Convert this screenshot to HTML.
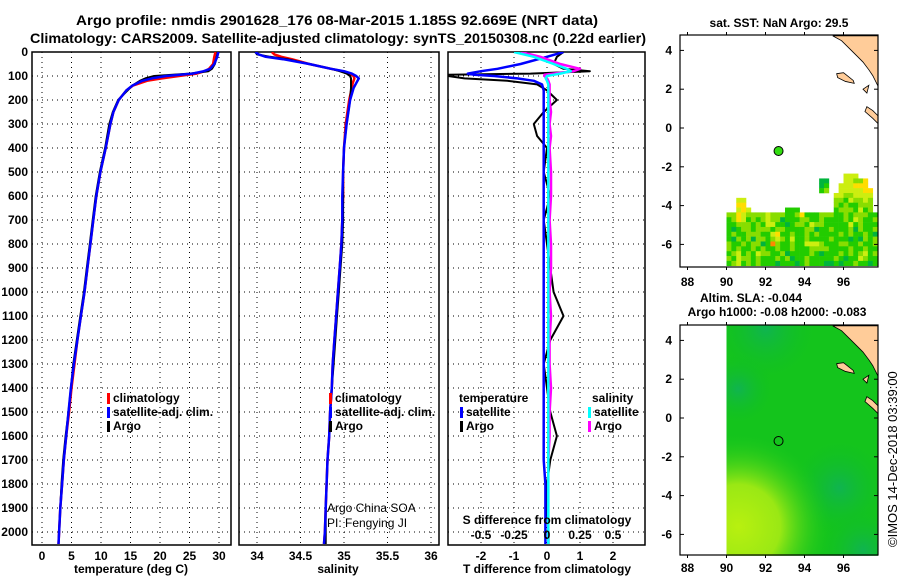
<!DOCTYPE html>
<html><head><meta charset="utf-8"><style>
html,body{margin:0;padding:0;background:#fff;width:900px;height:580px;overflow:hidden;}
svg{display:block;font-family:"Liberation Sans",sans-serif;}
.b{font-weight:bold;font-size:12px;}
</style></head><body>
<svg id="root" width="900" height="580" viewBox="0 0 900 580" xmlns="http://www.w3.org/2000/svg">
<defs id="defs">
<clipPath id="c1"><rect x="32" y="52" width="199" height="493"/></clipPath>
<clipPath id="c2"><rect x="239" y="52" width="200" height="493"/></clipPath>
<clipPath id="c3"><rect x="448" y="52" width="197" height="493"/></clipPath>
<clipPath id="cm1"><rect x="680" y="35" width="198" height="232"/></clipPath>
<clipPath id="cm2"><rect x="680" y="325" width="198" height="230"/></clipPath>
</defs>
<text x="337" y="25" text-anchor="middle" font-weight="bold" font-size="14" textLength="522" lengthAdjust="spacingAndGlyphs">Argo profile: nmdis 2901628_176 08-Mar-2015 1.185S 92.669E (NRT data)</text>
<text x="338" y="43" text-anchor="middle" font-weight="bold" font-size="14" textLength="616" lengthAdjust="spacingAndGlyphs">Climatology: CARS2009. Satellite-adjusted climatology: synTS_20150308.nc (0.22d earlier)</text>
<g id="g1"></g>
<g id="g2"></g>
<g id="g3"></g>
<g id="gm1"></g>
<g id="gm2"></g>
<text x="779" y="27" text-anchor="middle" class="b">sat. SST: NaN Argo: 29.5</text>
<text x="751" y="302" text-anchor="middle" class="b">Altim. SLA: -0.044</text>
<text x="777" y="316" text-anchor="middle" class="b">Argo h1000: -0.08 h2000: -0.083</text>
<text transform="translate(897,547) rotate(-90)" font-size="13">©IMOS 14-Dec-2018 03:39:00</text>
</svg>
<script>
// ---- profile data ----
const tDepth=[0,20,50,70,80,90,100,110,120,140,160,200,250,300,400,500,600,700,800,900,1000,1100,1200,1300,1400,1500,1600,1700,1800,1900,2000,2050];
const tArgo=[29.8,29.6,29.3,28.8,28.2,25,19,17.5,16.6,15.3,14.5,12.9,12.0,11.4,10.7,9.8,9.1,8.6,8.1,7.6,7.1,6.5,5.9,5.3,4.9,4.5,4.0,3.6,3.3,3.1,2.9,2.8];
const tClim=[29.4,29.2,29.0,28.3,27.6,26.2,23.2,20.3,17.8,15.4,14.3,13.0,12.1,11.6,10.8,9.9,9.2,8.7,8.2,7.7,7.2,6.6,6.0,5.5,5.0,4.6,4.1,3.7,3.4,3.1,2.9,2.8];
const tSat=[29.9,29.7,29.2,28.5,27.4,25.5,21.0,18.6,17.0,15.3,14.3,13.0,12.1,11.6,10.8,9.9,9.2,8.7,8.2,7.7,7.2,6.6,6.0,5.4,4.9,4.5,4.1,3.7,3.4,3.1,2.9,2.8];
const sDepth=[0,10,20,30,50,70,80,90,100,110,130,150,200,300,400,500,600,700,800,900,1000,1100,1200,1300,1400,1500,1600,1700,1800,1900,2000,2050];
const sArgo=[33.98,34.0,34.15,34.35,34.6,34.85,34.95,35.03,35.07,35.08,35.08,35.08,35.07,35.03,35.0,34.99,34.99,34.99,34.98,34.96,34.94,34.92,34.9,34.88,34.86,34.84,34.83,34.81,34.8,34.79,34.79,34.79];
const sClim=[34.17,34.2,34.28,34.4,34.6,34.85,34.98,35.06,35.11,35.12,35.1,35.09,35.06,35.02,35.0,34.99,34.99,34.98,34.97,34.95,34.93,34.91,34.89,34.87,34.86,34.84,34.83,34.81,34.8,34.79,34.78,34.77];
const sSat=[33.98,34.02,34.1,34.3,34.6,34.85,35.0,35.09,35.14,35.17,35.14,35.11,35.07,35.03,35.0,34.99,34.98,34.98,34.97,34.95,34.93,34.91,34.89,34.87,34.86,34.84,34.83,34.81,34.8,34.79,34.78,34.77];
const dDepth=[0,20,50,70,80,90,95,100,110,120,135,160,200,250,300,350,400,500,600,700,800,900,1000,1100,1200,1300,1400,1500,1600,1700,1800,1900,2000,2050];
const tdArgo=[0.5,0.3,0.2,0.5,1.3,-0.5,-3,-3,-2.5,-1.2,-0.3,0,0.3,-0.1,-0.4,-0.3,0,-0.1,0.1,-0.1,0,0.1,0.2,0.5,0.1,-0.1,0,0.1,0.3,0.1,0,0,0.05,0.05];
const tdSat=[0.5,0,-0.8,-1.5,-2,-2.4,-2.2,-1.6,-0.9,-0.4,-0.15,-0.1,-0.1,-0.1,-0.1,-0.1,-0.1,-0.1,-0.1,-0.1,-0.1,-0.1,-0.1,-0.1,-0.1,-0.1,-0.1,-0.1,-0.1,-0.1,-0.05,-0.05,-0.05,-0.05];
const sdArgo=[-0.2,-0.05,0.1,0.25,0.2,0.05,-0.02,-0.02,0,0.01,0.02,0.02,0.02,0.03,0.02,0.03,0.02,0.03,0.03,0.02,0.03,0.03,0.02,0.03,0.02,0.02,0.03,0.02,0.02,0.01,0.01,0.01,0.01,0.01];
const sdSat=[-0.25,-0.1,0.05,0.15,0.18,0.1,0.05,0,-0.01,0,0.01,0.01,0.01,0.01,0.01,0.01,0.01,0.01,0.01,0.01,0.01,0.01,0.01,0.01,0.01,0.01,0.01,0.01,0.01,0.01,0.01,0.01,0.01,0.01];
const depthTicks=[0,100,200,300,400,500,600,700,800,900,1000,1100,1200,1300,1400,1500,1600,1700,1800,1900,2000];
const tTicks=[0,5,10,15,20,25,30];
const sTicks=[34,34.5,35,35.5,36];
const tdTicks=[-2,-1,0,1,2];
const sdTicks=[-0.5,-0.25,0,0.25,0.5];
// ---- map data ----
const lonTicks=[88,90,92,94,96];
const latTicks=[4,2,0,-2,-4,-6];
const argoLon=92.669, argoLat=-1.185;
const sstRows=[
"........................yyy....",
"...................GG...yyllY..",
"...................Gg..yyyYYY..",
"...................gl..yyyyyYY.",
"......................yyllyyyy.",
"..yy..................llgyllyl.",
"..YY..................lglgglll.",
"..yYy.......ggg.......glllgygl.",
"llYyllllylllgglYggglllgglglllgg",
"glYyglglyllGgggllgglgggglgylggl",
"gglllglgyyggGgllgyllgggggyglggg",
"gGgllglllgllggggllGgglggglGlggl",
"glgglllggyYgglgglglgggglglgglgG",
"gGlglGllglylgygglgggglgggGgGlgl",
"lgglgllGgolgglggyyylgggllgglggl",
"lglgglglgglgglgggllllgggglgglgg",
"glyglgyllgglGgggglgGggglglglygl",
"lgyllglggglglGgglggggglgGggylgg",
"glyglglgggGgggGglgggGGgGgglggGg"];
const sstTopLat=-2.35, sstCell=0.25, sstLon0=90;
const sstColors={g:"#22cc00",G:"#00b43c",l:"#88dd00",y:"#ccee10",Y:"#ffdd00",o:"#ff8800"};
// SLA blobs: lon, lat, radius (deg), kind
const slaBlobLon=[92,95.8,97,90.6,90.6];
const slaBlobLat=[4.6,-3.6,-6.8,1.5,-5.6];
const slaBlobR=[2.6,2.5,2.2,1.8,4.8];
const slaBlobKind=['teal','teal','teal','teal','lime'];

const NS="http://www.w3.org/2000/svg";
function mk(tag,attrs,parent){const e=document.createElementNS(NS,tag);for(const k in attrs)e.setAttribute(k,attrs[k]);parent.appendChild(e);return e;}
const yD=d=>52+d*0.24;
const xT=v=>42+v*5.9;
const xS=v=>257+(v-34)*87;
const xTd=v=>547+v*33;
const xSd=v=>547+v*132;

function panel(g,x0,x1,xf,ticks,fmt,clip,title,titleX){
  depthTicks.forEach(d=>{if(d>0){const l=mk('line',{x1:x0,x2:x1,y1:yD(d),y2:yD(d),stroke:'#000','stroke-dasharray':'1,4'},g);

}});
  ticks.forEach(t=>{const l=mk('line',{x1:xf(t),x2:xf(t),y1:52,y2:545,stroke:'#000','stroke-dasharray':'1,4'},g);


const tx=mk('text',{x:xf(t),y:560,'text-anchor':'middle',class:'b'},g);tx.textContent=fmt(t);

});
  if(title){const tt=mk('text',{x:titleX,y:573,'text-anchor':'middle',class:'b','font-size':'13'},g);tt.textContent=title;

}
  const r=mk('rect',{x:x0,y:52,width:x1-x0,height:493,fill:'none',stroke:'#000','stroke-width':1.5},g);


}
function series(g,depths,vals,xf,color,w,clip,name){
  const pts=depths.map((d,i)=>xf(vals[i]).toFixed(1)+','+yD(d).toFixed(1)).join(' ');
  const p=mk('polyline',{points:pts,fill:'none',stroke:color,'stroke-width':w,'clip-path':'url(#'+clip+')','stroke-linejoin':'round'},g);
  
  
}
function legend(g,x,y,color,label){
  const r=mk('rect',{x:x,y:y-9,width:3,height:11,fill:color},g);
  
  
  const t=mk('text',{x:x+6,y:y,class:'b'},g);t.textContent=label;
  
  
}
const g1=document.getElementById('g1'),g2=document.getElementById('g2'),g3=document.getElementById('g3');
depthTicks.forEach(d=>{const t=mk('text',{x:28,y:yD(d)+4,'text-anchor':'end',class:'b'},g1);t.textContent=d;

});
panel(g1,32,231,xT,tTicks,v=>v,'c1','temperature (deg C)',131);
series(g1,tDepth,tClim,xT,'#f00',2.5,'c1','temp-climatology-line');
series(g1,tDepth,tArgo,xT,'#000',2,'c1','temp-argo-line');
series(g1,tDepth,tSat,xT,'#00f',2.5,'c1','temp-satellite-line');
legend(g1,107,402,'#f00','climatology');legend(g1,107,416,'#00f','satellite-adj. clim.');legend(g1,107,430,'#000','Argo');
panel(g2,239,439,xS,sTicks,v=>v,'c2','salinity',338);
series(g2,sDepth,sClim,xS,'#f00',2.5,'c2','sal-climatology-line');
series(g2,sDepth,sArgo,xS,'#000',2,'c2','sal-argo-line');
series(g2,sDepth,sSat,xS,'#00f',2.5,'c2','sal-satellite-line');
legend(g2,329,402,'#f00','climatology');legend(g2,329,416,'#00f','satellite-adj. clim.');legend(g2,329,430,'#000','Argo');
[['Argo China SOA',512],['PI: Fengying JI',527]].forEach(a=>{const t=mk('text',{x:327,y:a[1],'font-size':'12'},g2);t.textContent=a[0];

});
panel(g3,448,645,xTd,tdTicks,v=>v,'c3','T difference from climatology',547);
series(g3,dDepth,tdArgo,xTd,'#000',2,'c3','tdiff-argo-line');
series(g3,dDepth,tdSat,xTd,'#00f',2.5,'c3','tdiff-satellite-line');
series(g3,dDepth,sdArgo,xSd,'#f0f',2.5,'c3','sdiff-argo-line');
series(g3,dDepth,sdSat,xSd,'#0ff',2.5,'c3','sdiff-satellite-line');
{const t=mk('text',{x:459,y:402,class:'b'},g3);t.textContent='temperature';


const s=mk('text',{x:592,y:402,class:'b'},g3);s.textContent='salinity';

}
legend(g3,460,416,'#00f','satellite');legend(g3,460,430,'#000','Argo');
legend(g3,588,416,'#0ff','satellite');legend(g3,588,430,'#f0f','Argo');
{const t=mk('text',{x:547,y:524,'text-anchor':'middle',class:'b','font-size':'13'},g3);t.textContent='S difference from climatology';


sdTicks.forEach(v=>{const s=mk('text',{x:xSd(v),y:539,'text-anchor':'middle',class:'b'},g3);s.textContent=String(v);

});}

// ---- maps ----
const mx=lon=>726.5+(lon-90)*19.5;
function mapFrame(g,top,bottom,latY,xlabY){
  latTicks.forEach(la=>{const t=mk('text',{x:672,y:latY(la)+4,'text-anchor':'end',class:'b'},g);t.textContent=la;


mk('line',{x1:680,x2:684,y1:latY(la),y2:latY(la),stroke:'#000'},g);mk('line',{x1:874,x2:878,y1:latY(la),y2:latY(la),stroke:'#000'},g);});
  lonTicks.forEach(lo=>{const t=mk('text',{x:mx(lo),y:xlabY,'text-anchor':'middle',class:'b'},g);t.textContent=lo;


mk('line',{x1:mx(lo),x2:mx(lo),y1:top-3,y2:top,stroke:'#000'},g);mk('line',{x1:mx(lo),x2:mx(lo),y1:bottom,y2:bottom+3,stroke:'#000'},g);});
  const r=mk('rect',{x:680,y:top,width:198,height:bottom-top,fill:'none',stroke:'#000','stroke-width':1.2},g);


}
function land(g,latY,clip){
  const pts=[[95.45,4.9],[95.9,4.5],[96.3,4.1],[96.7,3.7],[97.0,3.4],[97.3,3.0],[97.5,2.7],[97.65,2.4],[97.75,2.2],[97.9,2.2],[97.9,4.9]];
  const poly=mk('polygon',{points:pts.map(p=>Math.min(mx(p[0]),878)+','+Math.max(latY(p[1]),latY(4.75))).join(' '),fill:'#ffcc99',stroke:'#000','stroke-width':0.8,'clip-path':'url(#'+clip+')'},g);
  
  
  const isl=[[[95.65,2.8],[96.0,2.85],[96.5,2.45],[96.55,2.3],[96.1,2.4],[95.7,2.6]],[[97.2,1.1],[97.5,0.9],[97.8,0.6],[97.8,0.2],[97.5,0.5],[97.1,0.85]],[[97.0,2.0],[97.3,2.2],[97.2,1.8]]];
  isl.forEach(s=>{const p=mk('polygon',{points:s.map(q=>mx(q[0])+','+latY(q[1])).join(' '),fill:'#ffcc99',stroke:'#000','stroke-width':0.8,'clip-path':'url(#'+clip+')'},g);

});
}
const gm1=document.getElementById('gm1');
const ly1=la=>128-la*19.4;
sstRows.forEach((row,i)=>{for(let j=0;j<row.length;j++){const c=row[j];if(c==='.')continue;
  const lonA=sstLon0+j*sstCell, latA=sstTopLat-i*sstCell;
  const r=mk('rect',{x:mx(lonA),y:ly1(latA),width:sstCell*19.5+0.3,height:sstCell*19.4+0.3,fill:sstColors[c],'clip-path':'url(#cm1)'},gm1);
  
  }});
land(gm1,ly1,'cm1');
{const c=mk('circle',{cx:mx(argoLon),cy:ly1(argoLat),r:4.5,fill:'#33dd11',stroke:'#000','stroke-width':1},gm1);

}
mapFrame(gm1,35,267,ly1,286);

const gm2=document.getElementById('gm2');
const defs=document.getElementById('defs');
const ly2=la=>418-la*19.4;
{const fx=mx(90), fy=325, fw=878-mx(90), fh=ly2(-7.1)-325;
const f=mk('rect',{x:fx,y:fy,width:fw,height:fh,fill:'#14c41c'},gm2);


slaBlobLon.forEach((lo,i)=>{
  const id='blob'+i;
  const gr=mk('radialGradient',{id:id,gradientUnits:'userSpaceOnUse',cx:mx(lo),cy:ly2(slaBlobLat[i]),r:slaBlobR[i]*19.5},defs);
  if(slaBlobKind[i]==='lime'){mk('stop',{offset:0,'stop-color':'#b8f010'},gr);mk('stop',{offset:0.45,'stop-color':'#9ae814'},gr);mk('stop',{offset:1,'stop-color':'#18c81c','stop-opacity':0},gr);}
  else{mk('stop',{offset:0,'stop-color':'#10b450'},gr);mk('stop',{offset:1,'stop-color':'#10c020','stop-opacity':0},gr);}
  const r=mk('rect',{x:fx,y:fy,width:fw,height:fh,fill:'url(#'+id+')'},gm2);
  
  
});}
land(gm2,ly2,'cm2');
{const c=mk('circle',{cx:mx(argoLon),cy:ly2(argoLat),r:4.5,fill:'none',stroke:'#000','stroke-width':1},gm2);

}
mapFrame(gm2,325,555,ly2,572);
</script>
</body></html>
